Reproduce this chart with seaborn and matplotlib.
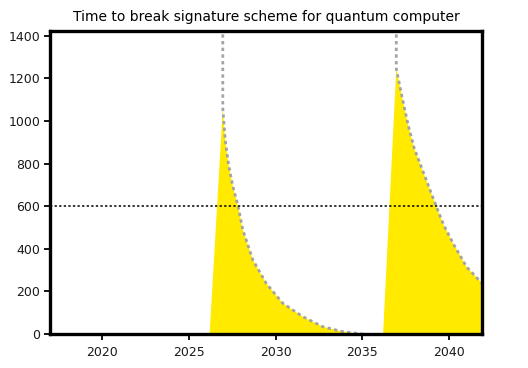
import numpy as np
import pandas as pd
import matplotlib
matplotlib.use("Agg")
import matplotlib.pyplot as plt
import seaborn as sns

# Values
curve1_years = [2026.96, 2026.96, 2027.1, 2027.3, 2027.55, 2027.85, 2028.11, 2028.69,
                2029.46, 2030.42, 2031.58, 2032.73, 2033.88, 2035.04]
curve1_values = [1500, 1060, 910, 790, 690, 596, 490, 348, 238, 144, 81, 34, 11, 0]

curve2_years = [2036.96, 2036.96, 2037.3, 2037.63, 2038.0, 2038.7, 2039.27, 2039.7,
                2040.23, 2041.0, 2041.9]
curve2_values = [1500, 1245, 1110, 985, 870, 720, 598, 510, 426, 316, 238]

# yellow areas: ramp start, then follow the curve (from index 1)
fill1_start = 2026.2
fill2_start = 2036.2
threshold = 600

sns.set_style("white")
plt.rcParams["font.family"] = ["DejaVu Sans"]

fig, ax = plt.subplots(figsize=(5.28, 3.68), dpi=100)
fig.subplots_adjust(left=50 / 528, right=482 / 528, top=1 - 31 / 368, bottom=1 - 334 / 368)

yellow = "#ffea00"
for start, yrs, vals in [(fill1_start, curve1_years, curve1_values),
                         (fill2_start, curve2_years, curve2_values)]:
    px = [start] + yrs[1:] + [yrs[-1]]
    py = [0] + vals[1:] + [0]
    ax.fill(px, py, color=yellow, lw=0, zorder=1)

for yrs, vals in [(curve1_years, curve1_values), (curve2_years, curve2_values)]:
    df = pd.DataFrame({"year": yrs, "value": vals})
    sns.lineplot(data=df, x="year", y="value", ax=ax, estimator=None, sort=False,
                 color="#a3a3a3", lw=2, linestyle=(0, (1.2, 1.2)), zorder=2)

ax.axhline(threshold, color="black", lw=1.1, linestyle=(0, (1.5, 1.5)), zorder=3)

ax.set_xlim(2017, 2041.9)
ax.set_ylim(0, 1422)
ax.set_xticks([2020, 2025, 2030, 2035, 2040])
ax.set_yticks(range(0, 1401, 200))
ax.set_xlabel("")
ax.set_ylabel("")
ax.set_title("Time to break signature scheme for quantum computer", fontsize=10,
             color="black", pad=7)

for s in ax.spines.values():
    s.set_visible(True)
    s.set_color("black")
    s.set_linewidth(2.4)
    s.set_zorder(4)
ax.tick_params(axis="both", direction="out", length=4, width=1.3, color="black",
               labelsize=9, labelcolor="#1a1a1a", pad=3)
ax.tick_params(axis="x", bottom=True, pad=5)
ax.tick_params(axis="y", left=True)

fig.savefig("out.png", dpi=100)
